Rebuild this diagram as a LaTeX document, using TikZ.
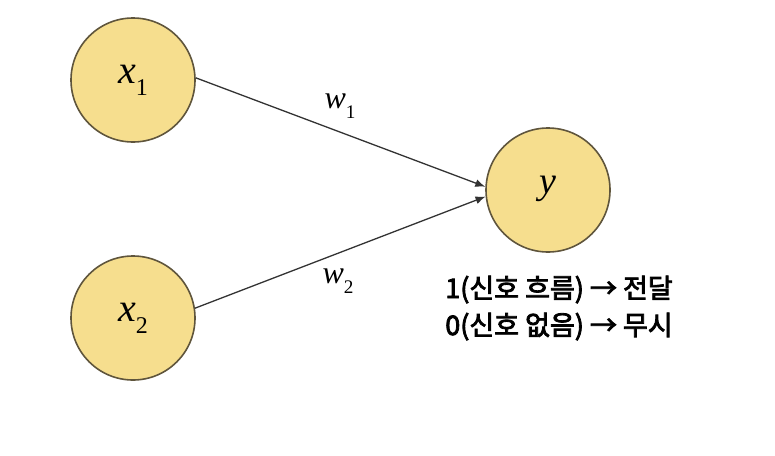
\documentclass[tikz,border=0pt]{standalone}
\usepackage{fontspec}
\newfontfamily\kofont[FakeBold=3]{Noto Sans CJK KR}
\newfontfamily\serifvar{Liberation Serif}
\newcommand{\varsub}[3]{{\serifvar\fontsize{#3}{#3}\selectfont\itshape #1\upshape\raisebox{-0.3em}{\fontsize{0.6\dimexpr#3pt\relax}{1}\selectfont #2}}}
\usetikzlibrary{positioning, arrows.meta}
\definecolor{nodefill}{RGB}{246,222,142}
\definecolor{nodeline}{RGB}{95,85,60}
\tikzset{
  neuron/.style={circle, draw=nodeline, line width=1.6pt, fill=nodefill,
                 minimum size=124pt, inner sep=0pt},
  arr/.style={-{Latex[length=10pt,width=8pt]}, line width=1.3pt, draw=black!80},
  note/.style={font=\kofont\fontsize{27}{37}\selectfont, align=center},
}
\begin{document}
\begin{tikzpicture}[x=1pt, y=-1pt]
  \useasboundingbox (0,0) rectangle (775,455);
  % inputs (left) and output (right)
  \node[neuron] (x1) at (133,80)  {\varsub{x}{1}{40}};
  \node[neuron] (x2) at (133,318) {\varsub{x}{2}{40}};
  \node[neuron] (y)  at (548,190) {\varsub{y}{}{38}};
  % weighted connections
  \draw[arr] (x1.2) -- (y.177);
  \draw[arr] (x2.9) -- (y.186);
  \node (w1) at (340,106) {\varsub{w}{1}{32}};
  \node (w2) at (338,281) {\varsub{w}{2}{32}};
  % rule under the output
  \node[note] (rule) at (559,308) {1(신호 흐름) → 전달\\0(신호 없음) → 무시};
\end{tikzpicture}
\end{document}
